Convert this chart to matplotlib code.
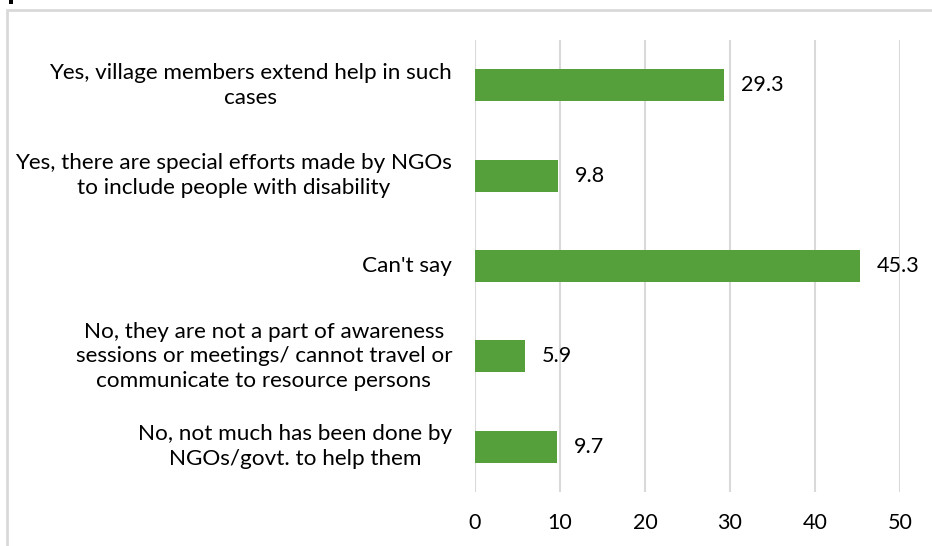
import matplotlib.pyplot as plt
import matplotlib.patches as patches

categories = [
    "Yes, village members extend help in such\ncases",
    "Yes, there are special efforts made by NGOs\nto include people with disability",
    "Can't say",
    "No, they are not a part of awareness\nsessions or meetings/ cannot travel or\ncommunicate to resource persons",
    "No, not much has been done by\nNGOs/govt. to help them",
]
values = [29.3, 9.8, 45.3, 5.9, 9.7]
x_ticks = [0, 10, 20, 30, 40, 50]

BAR_COLOR = "#56A03B"
GRID_COLOR = "#D9D9D9"
TEXT_COLOR = "#000000"
FS = 15.5
LABEL_FS = 16.2

plt.rcParams["font.family"] = ["Lato", "DejaVu Sans"]

W, H = 932, 546
fig = plt.figure(figsize=(W / 100, H / 100), dpi=100)
ax = fig.add_axes([475 / W, 1 - 492 / H, 425 / W, 452 / H])

ypos = list(range(len(categories)))
ax.barh(ypos, values, height=0.355, color=BAR_COLOR, zorder=3)
ax.set_ylim(len(categories) - 0.5, -0.5)
ax.set_xlim(0, 50)
ax.set_xticks(x_ticks)
ax.set_xticklabels([str(t) for t in x_ticks], fontsize=FS, color=TEXT_COLOR)
ax.tick_params(axis="x", length=0, pad=15)
ax.set_yticks([])
ax.grid(axis="x", color=GRID_COLOR, linewidth=1.5, zorder=0)
for side in ax.spines.values():
    side.set_visible(False)

# category labels: right-aligned blocks, lines centred within each block
for y, label in zip(ypos, categories):
    ax.annotate(label, xy=(0, y), xycoords="data", xytext=(-16.5, 0),
                textcoords="offset points", ha="right", va="center",
                multialignment="center", fontsize=LABEL_FS, color=TEXT_COLOR,
                linespacing=1.3, annotation_clip=False)

# value labels at bar ends
for y, v in zip(ypos, values):
    ax.annotate(f"{v:.1f}", xy=(v, y), xytext=(12, 0), textcoords="offset points",
                ha="left", va="center", fontsize=FS, color=TEXT_COLOR,
                annotation_clip=False)

# chart frame and the small mark at the top-left corner
fig.patches.append(patches.Rectangle((7 / W, -0.1), 1.1, 1 - 10 / H + 0.1,
                                     transform=fig.transFigure, fill=False,
                                     edgecolor=GRID_COLOR, linewidth=2))
fig.patches.append(patches.Rectangle((9 / W, 1 - 4 / H), 4 / W, 4 / H,
                                     transform=fig.transFigure,
                                     facecolor="black", edgecolor="none"))

fig.savefig("out.png", dpi=100)
